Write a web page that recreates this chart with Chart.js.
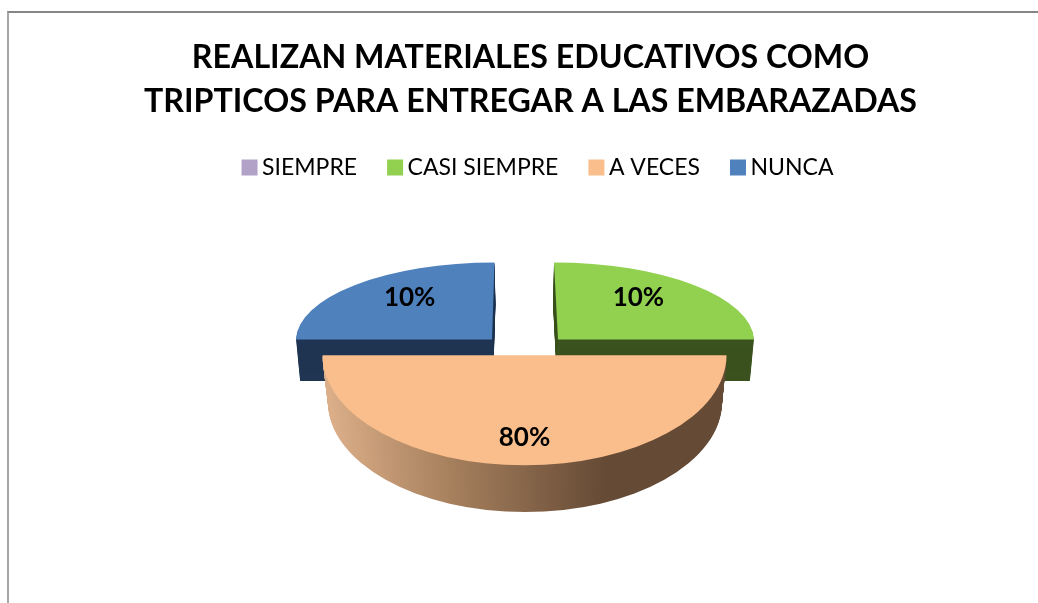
<!DOCTYPE html>
<html lang="es">
<head>
    <meta charset="UTF-8">
    <title>Materiales educativos</title>
    <script src="https://cdn.jsdelivr.net/npm/chart.js"></script>
    <style>
        html, body { margin: 0; padding: 0; background: #fff; overflow: hidden; }
        #wrap { position: relative; width: 1038px; height: 603px; }
        #frame { position: absolute; left: 7px; top: 11px; right: 0; bottom: -5px;
                 border-left: 2px solid #a6a6a6; border-top: 2px solid #868686; }
    </style>
</head>
<body>
<div id="wrap">
    <div id="frame"></div>
    <canvas id="pie" width="1038" height="603"></canvas>
</div>
<script>
const titleLines = ['REALIZAN MATERIALES EDUCATIVOS COMO', 'TRIPTICOS PARA ENTREGAR A LAS EMBARAZADAS'];
const categories = ['SIEMPRE', 'CASI SIEMPRE', 'A VECES', 'NUNCA'];
// el tamaño de cada sector en la imagen (cuartos y media torta)
const sliceValues = [0, 25, 50, 25];
// las etiquetas de la imagen no coinciden con el tamaño de los sectores
const sliceLabels = ['', '10%', '80%', '10%'];
const topColors = ['#B2A2C7', '#92D050', '#F9BE8C', '#4F81BD'];
const wallColors = ['#6B5B80', '#3B521E', '#654A35', '#1F3552'];

// vista 3D de cada sector: cara superior e inferior
const views = {
    1: { top: { x: 558, y: 339.5, rx: 196, ry: 77, skew: 4 }, bottom: { x: 557, y: 381, rx: 193, ry: 77, skew: 4 }, label: [0.41, -0.55] },
    3: { top: { x: 492, y: 339.5, rx: 196, ry: 77, skew: -2.5 }, bottom: { x: 493, y: 381, rx: 193, ry: 77, skew: -2.5 }, label: [-0.42, -0.55] },
    2: { top: { x: 524.5, y: 355.3, rx: 202, ry: 110, skew: 0 }, bottom: { x: 525, y: 402, rx: 197, ry: 110, skew: 0 }, label: [0, 0.75] }
};
const drawOrder = [3, 1, 2];

function lerp(a, b, t) {
    return a + (b - a) * t;
}

function placeArc(ctx, arc, v) {
    const r = arc.outerRadius;
    ctx.translate(v.x, v.y);
    ctx.transform(v.rx / r, 0, v.skew / r, v.ry / r, 0, 0);
    ctx.translate(-arc.x, -arc.y);
}

const pie3d = {
    id: 'pie3d',
    afterLayout(chart) {
        // la leyenda va un poco a la derecha del título
        chart.legend.left += 10.5;
        chart.legend.right += 10.5;
    },
    beforeDatasetsDraw(chart) {
        const ctx = chart.ctx;
        const arcs = chart.getDatasetMeta(0).data;
        drawOrder.forEach(i => {
            const arc = arcs[i];
            const v = views[i];
            const topFill = arc.options.backgroundColor;
            let wallFill = wallColors[i];
            // la pared de la torta grande lleva degradado
            if (i === 2) {
                const r = arc.outerRadius;
                wallFill = ctx.createLinearGradient(arc.x - r, 0, arc.x + r, 0);
                wallFill.addColorStop(0, '#DDB08A');
                wallFill.addColorStop(0.3, '#A9825F');
                wallFill.addColorStop(0.7, '#654A35');
                wallFill.addColorStop(1, '#654A35');
            }
            arc.options.backgroundColor = wallFill;
            const steps = Math.round(v.bottom.y - v.top.y);
            for (let s = steps; s >= 0; s--) {
                const t = s / steps;
                const layer = {};
                Object.keys(v.top).forEach(k => { layer[k] = lerp(v.top[k], v.bottom[k], t); });
                if (s === 0) arc.options.backgroundColor = topFill;
                ctx.save();
                placeArc(ctx, arc, layer);
                arc.draw(ctx);
                ctx.restore();
            }
        });
        ctx.save();
        ctx.fillStyle = '#000';
        ctx.font = 'bold 26px Lato';
        ctx.textAlign = 'center';
        ctx.textBaseline = 'middle';
        drawOrder.forEach(i => {
            const v = views[i];
            ctx.fillText(sliceLabels[i], v.top.x + v.label[0] * v.top.rx, v.top.y + v.label[1] * v.top.ry);
        });
        ctx.restore();
        return false;
    }
};

new Chart(document.getElementById('pie'), {
    type: 'pie',
    data: {
        labels: categories,
        datasets: [{
            data: sliceValues,
            backgroundColor: topColors,
            borderWidth: 0
        }]
    },
    options: {
        responsive: false,
        animation: false,
        layout: { padding: { left: 23 } },
        plugins: {
            title: {
                display: true,
                text: titleLines,
                color: '#000',
                font: { family: 'Lato', size: 32.2, weight: 'bold', lineHeight: 1.366 },
                padding: { top: 36, bottom: -5 }
            },
            legend: {
                position: 'top',
                labels: {
                    usePointStyle: true,
                    pointStyle: 'rect',
                    boxWidth: 2,
                    boxHeight: 16,
                    padding: 37,
                    color: '#000',
                    font: { family: 'Lato', size: 23 }
                }
            },
            tooltip: { enabled: false }
        }
    },
    plugins: [pie3d]
});
</script>
</body>
</html>
